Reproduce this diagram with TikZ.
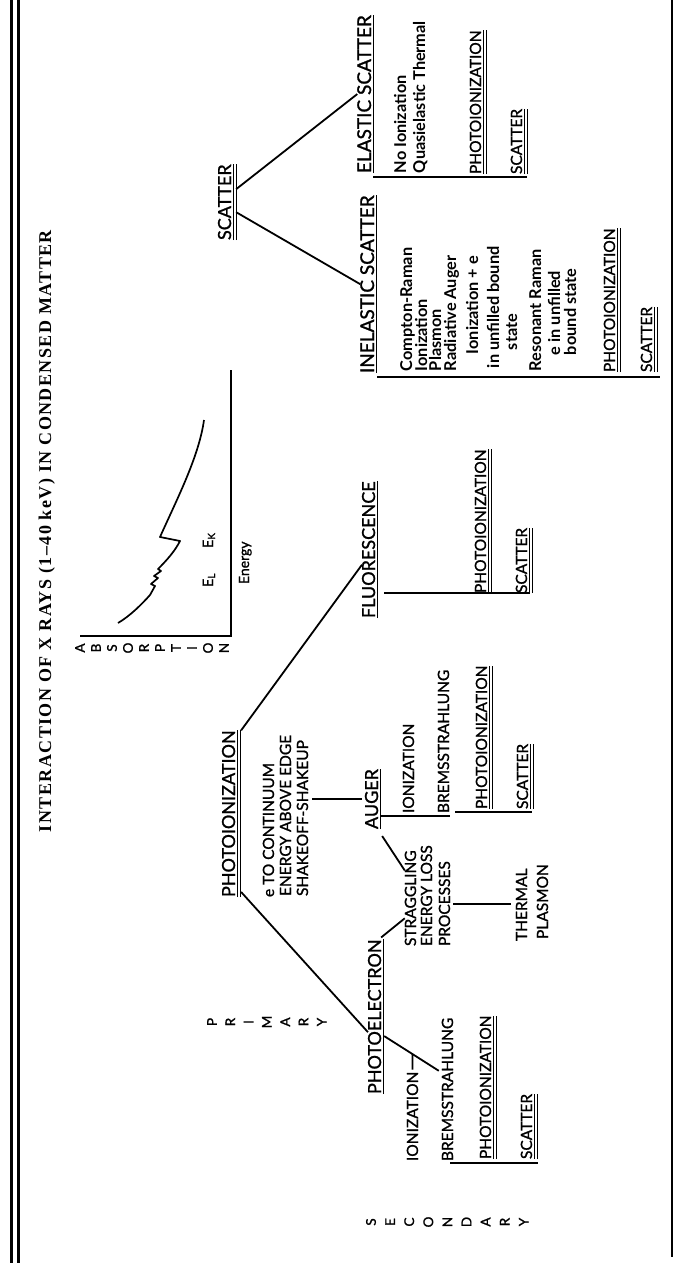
\documentclass[tikz,border=0pt]{standalone}
\usepackage{fontspec}
\setmainfont{Liberation Serif}
\newfontfamily\lato{Lato}[FakeBold=1.2]
\newfontfamily\latob{Lato Bold}
\newfontfamily\titlefont{Liberation Serif Bold}[LetterSpace=8]
\usetikzlibrary{calc}
\newcommand\fsz[1]{\fontsize{#1}{#1}\selectfont}
\newcommand\ulsingle[1]{\draw[ul] ($(#1.base west)+(2.5,0)$) -- ($(#1.base east)+(2.5,0)$);}
\newcommand\uldbl[1]{\draw[ul] ($(#1.base west)+(2.5,0)$) -- ($(#1.base east)+(2.5,0)$);
  \draw[ul] ($(#1.base west)+(5.5,0)$) -- ($(#1.base east)+(5.5,0)$);}
\tikzset{
  lab/.style={rotate=90, anchor=base west, inner sep=0pt, outer sep=0pt},
  hdr/.style={lab, font=\lato\fsz{18}},
  sub/.style={lab, font=\lato\fsz{15.5}},
  itm/.style={lab, font=\latob\fsz{16.3}},
  spl/.style={rotate=90, inner sep=0pt, font=\lato\fsz{13.5}},
  conn/.style={line width=1.8pt},
  brk/.style={line width=2.1pt},
  ul/.style={line width=1.2pt},
  frame/.style={line width=3pt},
}
\begin{document}
\begin{tikzpicture}[x=1pt, y=-1pt]
\fill[white] (0,0) rectangle (676,1263);
\useasboundingbox (0,0) rectangle (676,1263);
% frame
\draw[frame] (11.5,0) -- (11.5,1263);
\draw[frame] (18,0) -- (18,1263);
\draw[line width=2pt] (672,0) -- (672,1257);
% title
\node[lab, font=\titlefont\fsz{18}] (title) at (51,832) {INTERACTION OF X RAYS (1–40 keV) IN CONDENSED MATTER};
% absorption graph
\coordinate (orig) at (231,636);
\coordinate (etop) at (231,370);
\coordinate (aend) at (80,636);
\draw[line width=2pt] (etop) -- (orig) -- (aend);
\draw[line width=1.7pt, line join=round]
  (118,623) .. controls (130,616) and (142,604) .. (150,595)
  -- (155,586) -- (151,584) -- (158,578) -- (154,576) -- (161,571) -- (158,569)
  .. controls (167,560) and (175,551) .. (180,541) -- (160,537)
  .. controls (178,497) and (199,456) .. (204,420);
\foreach \c [count=\i from 0] in {A,B,S,O,R,P,T,I,O,N}
  \node[spl] (abs\i) at (80+16*\i,648) {\c};
\node[lab, font=\lato\fsz{14.5}] (eL) at (213,587) {E\raisebox{-2pt}{\fsz{10}L}};
\node[lab, font=\lato\fsz{14.5}] (eK) at (213,548) {E\raisebox{-2pt}{\fsz{10}K}};
\node[lab, font=\lato\fsz{14}] (energy) at (249,584) {Energy};
% PRIMARY / SECONDARY
\foreach \c [count=\i from 0] in {P,R,I,M,A,R,Y}
  \node[spl] (pri\i) at (212+18.3*\i,1022) {\c};
\foreach \c [count=\i from 0] in {S,E,C,O,N,D,A,R,Y}
  \node[spl] (sec\i) at (371+19.1*\i,1222) {\c};
% scatter branch
\node[hdr] (scat) at (231,240) {SCATTER}; \uldbl{scat}
\node[hdr, font=\lato\fsz{19}] (el) at (371,173) {ELASTIC SCATTER}; \ulsingle{el}
\node[itm] (e1) at (406,173) {No Ionization};
\node[itm] (e2) at (425,173) {Quasielastic Thermal};
\node[sub] (epi) at (481,174) {PHOTOIONIZATION}; \uldbl{epi}
\node[sub] (esc) at (522,174) {SCATTER}; \uldbl{esc}
\draw[brk] ($(el.base west)+(2,4)$) -- ($(esc.base west)+(5,3)$);
\node[hdr, font=\lato\fsz{19}] (inel) at (374,373) {INELASTIC SCATTER}; \ulsingle{inel}
\node[itm] (i1) at (412,371) {Compton-Raman};
\node[itm] (i2) at (427,371) {Ionization};
\node[itm] (i3) at (441,371) {Plasmon};
\node[itm] (i4) at (456,371) {Radiative Auger};
\node[itm] (i5) at (478,354) {Ionization + e};
\node[itm] (i6) at (499,368) {in unfilled bound};
\node[itm] (i7) at (517,350) {state};
\node[itm] (i8) at (541,371) {Resonant Raman};
\node[itm] (i9) at (560,355) {e in unfilled};
\node[itm] (i10) at (576,355) {bound state};
\node[sub] (ipi) at (615,372) {PHOTOIONIZATION}; \uldbl{ipi}
\node[sub] (isc) at (652,372) {SCATTER}; \uldbl{isc}
\draw[brk] ($(inel.base west)+(3,4)$) -- ($(isc.base west)+(8,5)$);
\draw[conn] ($(scat.south)+(5,-13)$) -- (el.north);
\draw[conn] ($(scat.south)+(5,10)$) -- (inel.north);
% photoionization
\node[hdr] (photo) at (235,897) {PHOTOIONIZATION}; \uldbl{photo}
\node[sub] (p1) at (274,897) {e TO CONTINUUM};
\node[sub] (p2) at (291,896) {ENERGY ABOVE EDGE};
\node[sub] (p3) at (308,896) {SHAKEOFF-SHAKEUP};
% fluorescence
\node[hdr] (fl) at (375,618) {FLUORESCENCE}; \ulsingle{fl}
\node[sub] (fpi) at (486,593) {PHOTOIONIZATION}; \uldbl{fpi}
\node[sub] (fsc) at (527,593) {SCATTER}; \uldbl{fsc}
\coordinate (flb) at (fl.base west |- fpi.base west);
\draw[brk] ($(flb)+(9,0)$) -- ($(fsc.base west)+(3,0)$);
\draw[conn] ($(photo.south east)+(6,0)$) -- ($(fl.north west)!0.39!(fl.north east)$);
% auger
\node[hdr] (aug) at (378,829) {AUGER}; \ulsingle{aug}
\node[sub] (aion) at (414,813) {IONIZATION};
\node[sub] (abrem) at (449,813) {BREMSSTRAHLUNG};
\node[sub] (api) at (487,809) {PHOTOIONIZATION}; \uldbl{api}
\node[sub] (asc) at (528,809) {SCATTER}; \uldbl{asc}
\coordinate (augb) at (aug.base west |- aion.base west);
\draw[brk] ($(augb)+(2,3)$) -- ($(abrem.base west)+(1,3)$);
\draw[brk] ($(abrem.base west)+(6,-1)$) -- ($(asc.base west)+(4,3)$);
\coordinate (shk) at (p3.south |- aug.north);
\draw[conn] ($(shk)+(4,0)$) -- ($(aug.north)+(-3,0)$);
% straggling
\node[sub] (st1) at (416,946) {STRAGGLING};
\node[sub] (st2) at (432,946) {ENERGY LOSS};
\node[sub] (st3) at (450,946) {PROCESSES};
\node[sub] (th1) at (527,941) {THERMAL};
\node[sub] (th2) at (548,939) {PLASMON};
\coordinate (thl) at (th1.north |- st3.south);
\draw[conn] ($(st3.south)+(3,0)$) -- ($(thl)+(-5,0)$);
\draw[conn] ($(aug.south west)+(4,7)$) -- ($(st1.north west)!0.79!(st1.north east)$);
% photoelectron
\node[hdr] (pe) at (381,1094) {PHOTOELECTRON}; \ulsingle{pe}
\draw[conn] ($(photo.south west)+(6,-5)$) -- ($(pe.north west)!0.4!(pe.north east)$);
\draw[conn] ($(pe.south east)+(0,-2)$) -- ($(st1.north west)!0.29!(st1.north east)$);
\node[sub] (pion) at (418,1161) {IONIZATION};
\node[sub] (pbrem) at (453,1161) {BREMSSTRAHLUNG};
\node[sub] (ppi) at (491,1159) {PHOTOIONIZATION}; \uldbl{ppi}
\node[sub] (psc) at (532,1159) {SCATTER}; \uldbl{psc}
\draw[brk] ($(pbrem.base west)+(-3,2)$) -- ($(psc.base west)+(6,4)$);
\coordinate (pb1) at ($(pe.south west)!0.375!(pe.south east)+(3,0)$);
\coordinate (pb2) at ($(pbrem.north west)!0.63!(pbrem.north east)+(-3,0)$);
\draw[conn] (pb1) -- (pb2);
\draw[conn] ($(pion.east)+(0,-2)$) -- (intersection of pb1--pb2 and pion.west--pion.east);
\end{tikzpicture}
\end{document}
